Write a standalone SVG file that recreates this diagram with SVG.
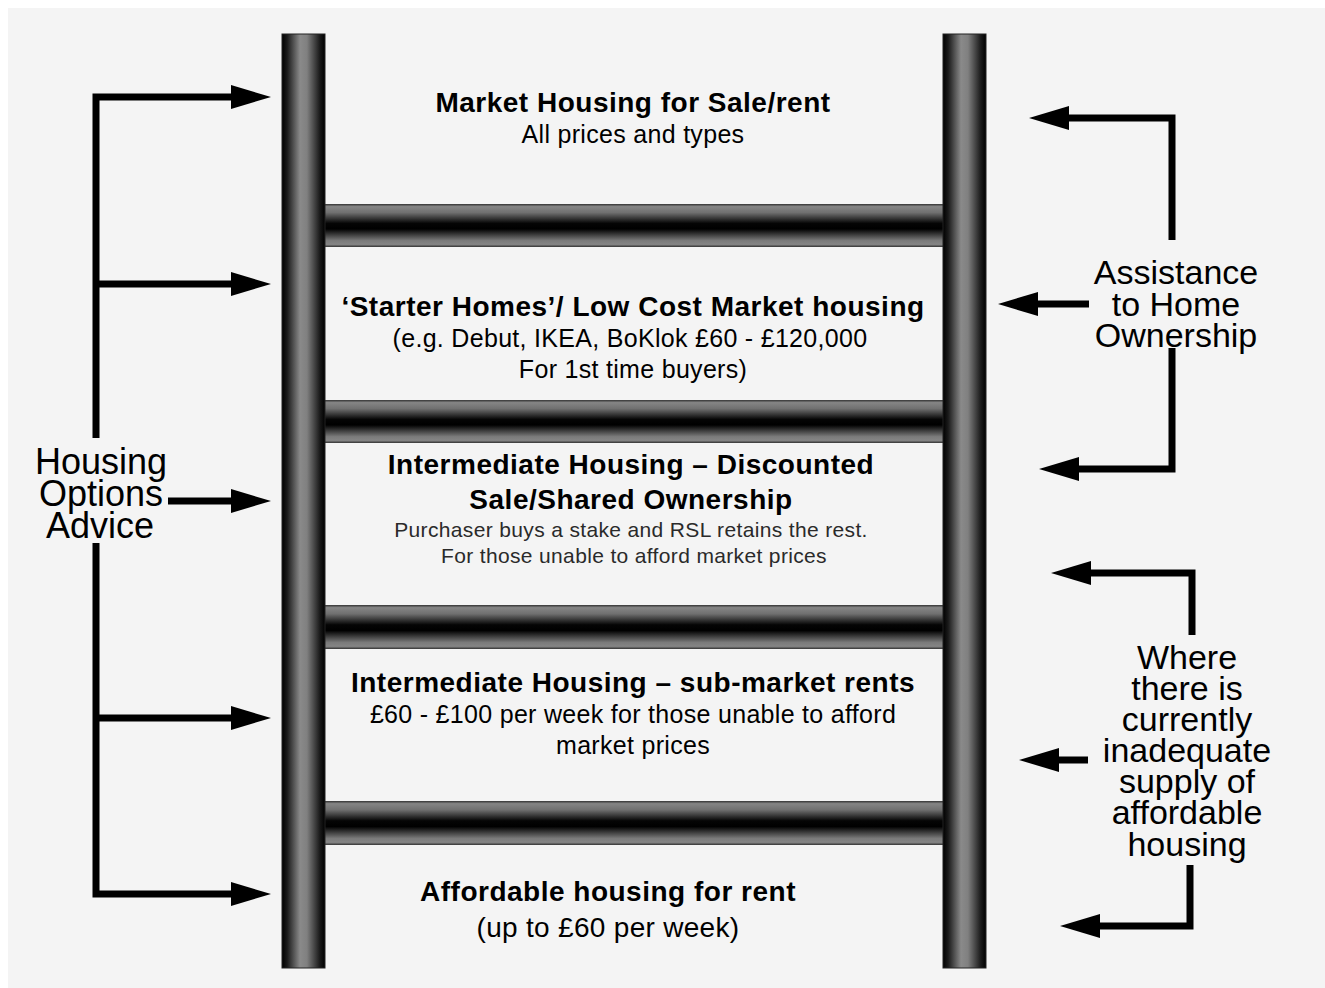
<svg xmlns="http://www.w3.org/2000/svg" width="1325" height="988" viewBox="0 0 1325 988">
<defs>
<linearGradient id="postGrad" x1="0" y1="0" x2="1" y2="0">
<stop offset="0" stop-color="#000"/>
<stop offset="0.12" stop-color="#1a1a1a"/>
<stop offset="0.42" stop-color="#8a8a8a"/>
<stop offset="0.58" stop-color="#808080"/>
<stop offset="0.88" stop-color="#1a1a1a"/>
<stop offset="1" stop-color="#000"/>
</linearGradient>
<linearGradient id="rungGrad" x1="0" y1="0" x2="0" y2="1">
<stop offset="0" stop-color="#333"/>
<stop offset="0.06" stop-color="#858585"/>
<stop offset="0.2" stop-color="#707070"/>
<stop offset="0.45" stop-color="#050505"/>
<stop offset="0.58" stop-color="#000"/>
<stop offset="0.85" stop-color="#7a7a7a"/>
<stop offset="0.94" stop-color="#858585"/>
<stop offset="1" stop-color="#333"/>
</linearGradient>
<marker id="head" viewBox="0 -12 40 24" markerWidth="40" markerHeight="24" refX="1" refY="0" orient="auto" markerUnits="userSpaceOnUse">
<path d="M0,-12 L40,0 L0,12 Z" fill="#000"/>
</marker>
</defs>
<style>
.post{fill:url(#postGrad);stroke:#222;stroke-width:1}
.rung{fill:url(#rungGrad)}
.conn{fill:none;stroke:#000;stroke-width:7;stroke-linejoin:miter;stroke-linecap:butt}
.arr{marker-end:url(#head)}
text{font-family:"Liberation Sans",Arial,sans-serif;fill:#000;text-anchor:middle}
.b{font-weight:bold;font-size:28px;letter-spacing:0.5px}
.n{font-size:25px;letter-spacing:0.3px}
.s{font-size:21px;fill:#2a2a2a;letter-spacing:0.35px}
.side{font-size:34px}
.side2{font-size:36px}
</style>
<rect x="0" y="0" width="1325" height="988" fill="#fff"/>
<rect x="8" y="8" width="1317" height="980" fill="#f4f4f4"/>

<g id="ladder">
<rect class="rung" x="325" y="204" width="618" height="43"/>
<rect class="rung" x="325" y="400" width="618" height="43"/>
<rect class="rung" x="325" y="605" width="618" height="44"/>
<rect class="rung" x="325" y="801" width="618" height="44"/>
<rect class="post" x="282" y="34" width="43" height="934"/>
<rect class="post" x="943" y="34" width="43" height="934"/>
</g>

<g id="connectors">
<path class="conn arr" d="M96,438 V97 H232"/>
<path class="conn arr" d="M96,284 H232"/>
<path class="conn arr" d="M168,501 H232"/>
<path class="conn arr" d="M96,543 V894 H232"/>
<path class="conn arr" d="M96,718 H232"/>
<path class="conn arr" d="M1172,240 V118 H1068"/>
<path class="conn arr" d="M1089,304 H1037"/>
<path class="conn arr" d="M1172,348 V469 H1078"/>
<path class="conn arr" d="M1192,635 V573 H1090"/>
<path class="conn arr" d="M1088,760 H1058"/>
<path class="conn arr" d="M1190,865 V926 H1099"/>
</g>

<g id="market">
<text class="b" x="633" y="112">Market Housing for Sale/rent</text>
<text class="n" x="633" y="143">All prices and types</text>
</g>
<g id="starter">
<text class="b" x="633" y="316">‘Starter Homes’/ Low Cost Market housing</text>
<text class="n" x="630" y="347">(e.g. Debut, IKEA, BoKlok £60 - £120,000</text>
<text class="n" x="633" y="378">For 1st time buyers)</text>
</g>
<g id="intermediate-sale">
<text class="b" x="631" y="474">Intermediate Housing – Discounted</text>
<text class="b" x="631" y="509">Sale/Shared Ownership</text>
<text class="s" x="631" y="537">Purchaser buys a stake and RSL retains the rest.</text>
<text class="s" x="634" y="563">For those unable to afford market prices</text>
</g>
<g id="intermediate-rent">
<text class="b" x="633" y="692">Intermediate Housing – sub-market rents</text>
<text class="n" x="633" y="723">£60 - £100 per week for those unable to afford</text>
<text class="n" x="633" y="754">market prices</text>
</g>
<g id="affordable">
<text class="b" x="608" y="901">Affordable housing for rent</text>
<text class="n" x="608" y="937" style="font-size:28px">(up to £60 per week)</text>
</g>
<g id="housing-options">
<text class="side2" x="101" y="474">Housing</text>
<text class="side2" x="101" y="506">Options</text>
<text class="side2" x="100" y="538">Advice</text>
</g>
<g id="assistance">
<text class="side" x="1176" y="284">Assistance</text>
<text class="side" x="1176" y="316">to Home</text>
<text class="side" x="1176" y="347">Ownership</text>
</g>
<g id="where">
<text class="side" x="1187" y="669">Where</text>
<text class="side" x="1187" y="700">there is</text>
<text class="side" x="1187" y="731">currently</text>
<text class="side" x="1187" y="762">inadequate</text>
<text class="side" x="1187" y="793">supply of</text>
<text class="side" x="1187" y="824">affordable</text>
<text class="side" x="1187" y="856">housing</text>
</g>
</svg>
